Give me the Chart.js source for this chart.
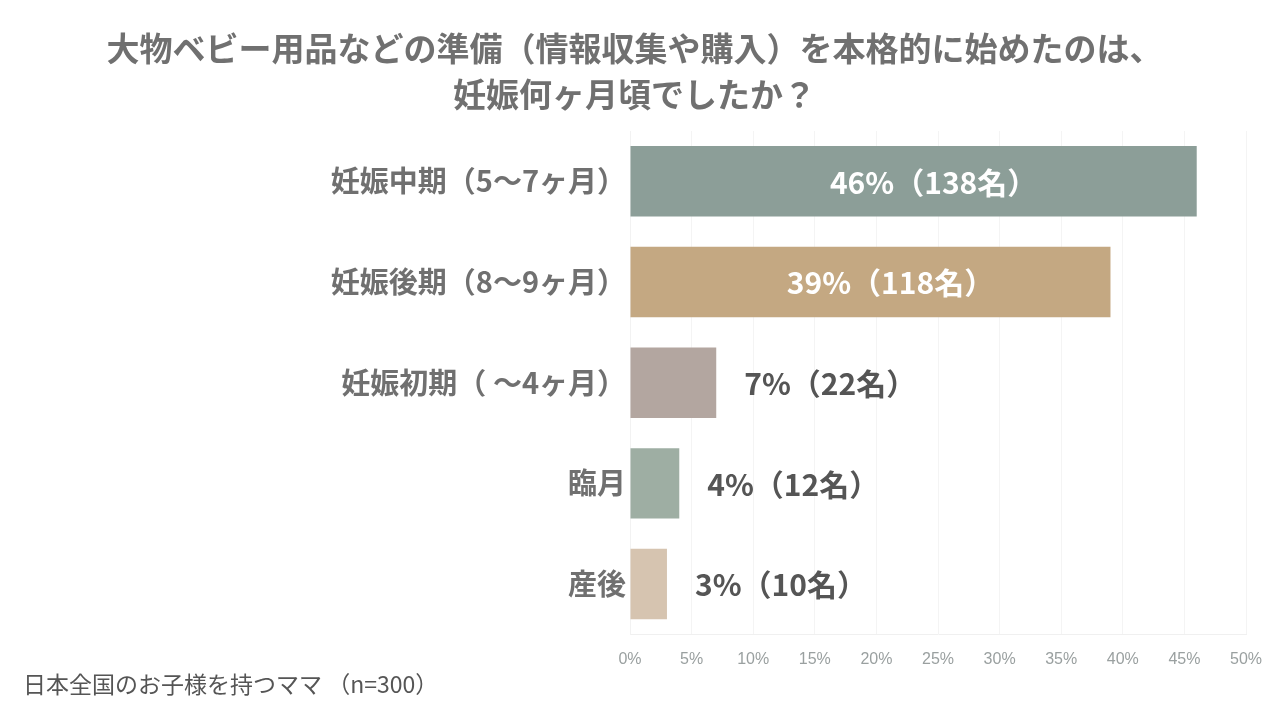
<!DOCTYPE html>
<html><head><meta charset="utf-8">
<script src="https://cdn.jsdelivr.net/npm/chart.js@4.4.0/dist/chart.umd.min.js"></script>
<style>html,body{margin:0;padding:0;background:#fff;}#wrap{width:1280px;height:720px;position:relative;}</style>
</head><body><div id="wrap"><canvas id="c" width="1280" height="720"></canvas></div>
<script>
const titleLines = ['大物ベビー用品などの準備（情報収集や購入）を本格的に始めたのは、', '妊娠何ヶ月頃でしたか？'];
const footnote = '日本全国のお子様を持つママ （n=300）';
const categories = ['妊娠中期（5〜7ヶ月）', '妊娠後期（8〜9ヶ月）', '妊娠初期（ 〜4ヶ月）', '臨月', '産後'];
const percents = [46, 39, 7, 4, 3];
const counts = [138, 118, 22, 12, 10];
const axisMax = 50;
const axisStep = 5;

const FONT = '"Noto Sans CJK JP", "Noto Sans", sans-serif';

const valueLabels = {
  id: 'valueLabels',
  afterDatasetsDraw(chart) {
    const ctx = chart.ctx;
    const meta = chart.getDatasetMeta(0);
    ctx.save();
    ctx.font = 'bold 30px ' + FONT;
    ctx.textBaseline = 'middle';
    meta.data.forEach((bar, i) => {
      const txt = percents[i] + '%（' + counts[i] + '名）';
      if (percents[i] > 20) {
        ctx.fillStyle = '#ffffff';
        ctx.textAlign = 'center';
        ctx.fillText(txt, (bar.base + bar.x) / 2 + 20, bar.y + 1);
      } else {
        ctx.fillStyle = '#555555';
        ctx.textAlign = 'left';
        ctx.fillText(txt, bar.x + 28, bar.y + 1);
      }
    });
    ctx.restore();
  }
};

new Chart(document.getElementById('c'), {
  type: 'bar',
  data: {
    labels: categories,
    datasets: [{
      data: percents,
      backgroundColor: ['#8c9e98', '#c4a882', '#b3a6a0', '#9eaea3', '#d6c4b0'],
      borderWidth: 0,
      barPercentage: 0.7,
      categoryPercentage: 1.0
    }]
  },
  options: {
    indexAxis: 'y',
    responsive: false,
    animation: false,
    devicePixelRatio: 1,
    layout: { padding: { left: 23, right: 34, top: 0, bottom: 0 } },
    scales: {
      x: {
        min: 0, max: axisMax,
        ticks: {
          stepSize: axisStep,
          callback: v => v + '%',
          color: '#9aa0a0',
          font: { size: 16, family: '"Liberation Sans", Arial, sans-serif' },
          padding: 16
        },
        grid: { color: '#f4f4f4', drawTicks: false },
        border: { color: '#f0f0f0' },
        afterFit: s => { s.height = 36; }
      },
      y: {
        ticks: {
          color: '#707070',
          font: { size: 29, weight: 'bold', family: FONT },
          padding: 4
        },
        grid: { display: false, drawTicks: false },
        border: { color: '#f2f2f2' },
        afterFit: s => { s.width = 607; }
      }
    },
    plugins: {
      legend: { display: false },
      tooltip: { enabled: false },
      title: {
        display: true,
        text: titleLines,
        color: '#707070',
        font: { size: 33, weight: 'bold', family: FONT, lineHeight: 46 / 33 },
        padding: { top: 25, bottom: 14 }
      },
      subtitle: {
        display: true,
        text: footnote,
        position: 'bottom',
        align: 'start',
        color: '#555555',
        font: { size: 23, weight: 'normal', family: FONT },
        padding: { top: 0, bottom: 22 }
      }
    }
  },
  plugins: [valueLabels]
});
</script></body></html>
